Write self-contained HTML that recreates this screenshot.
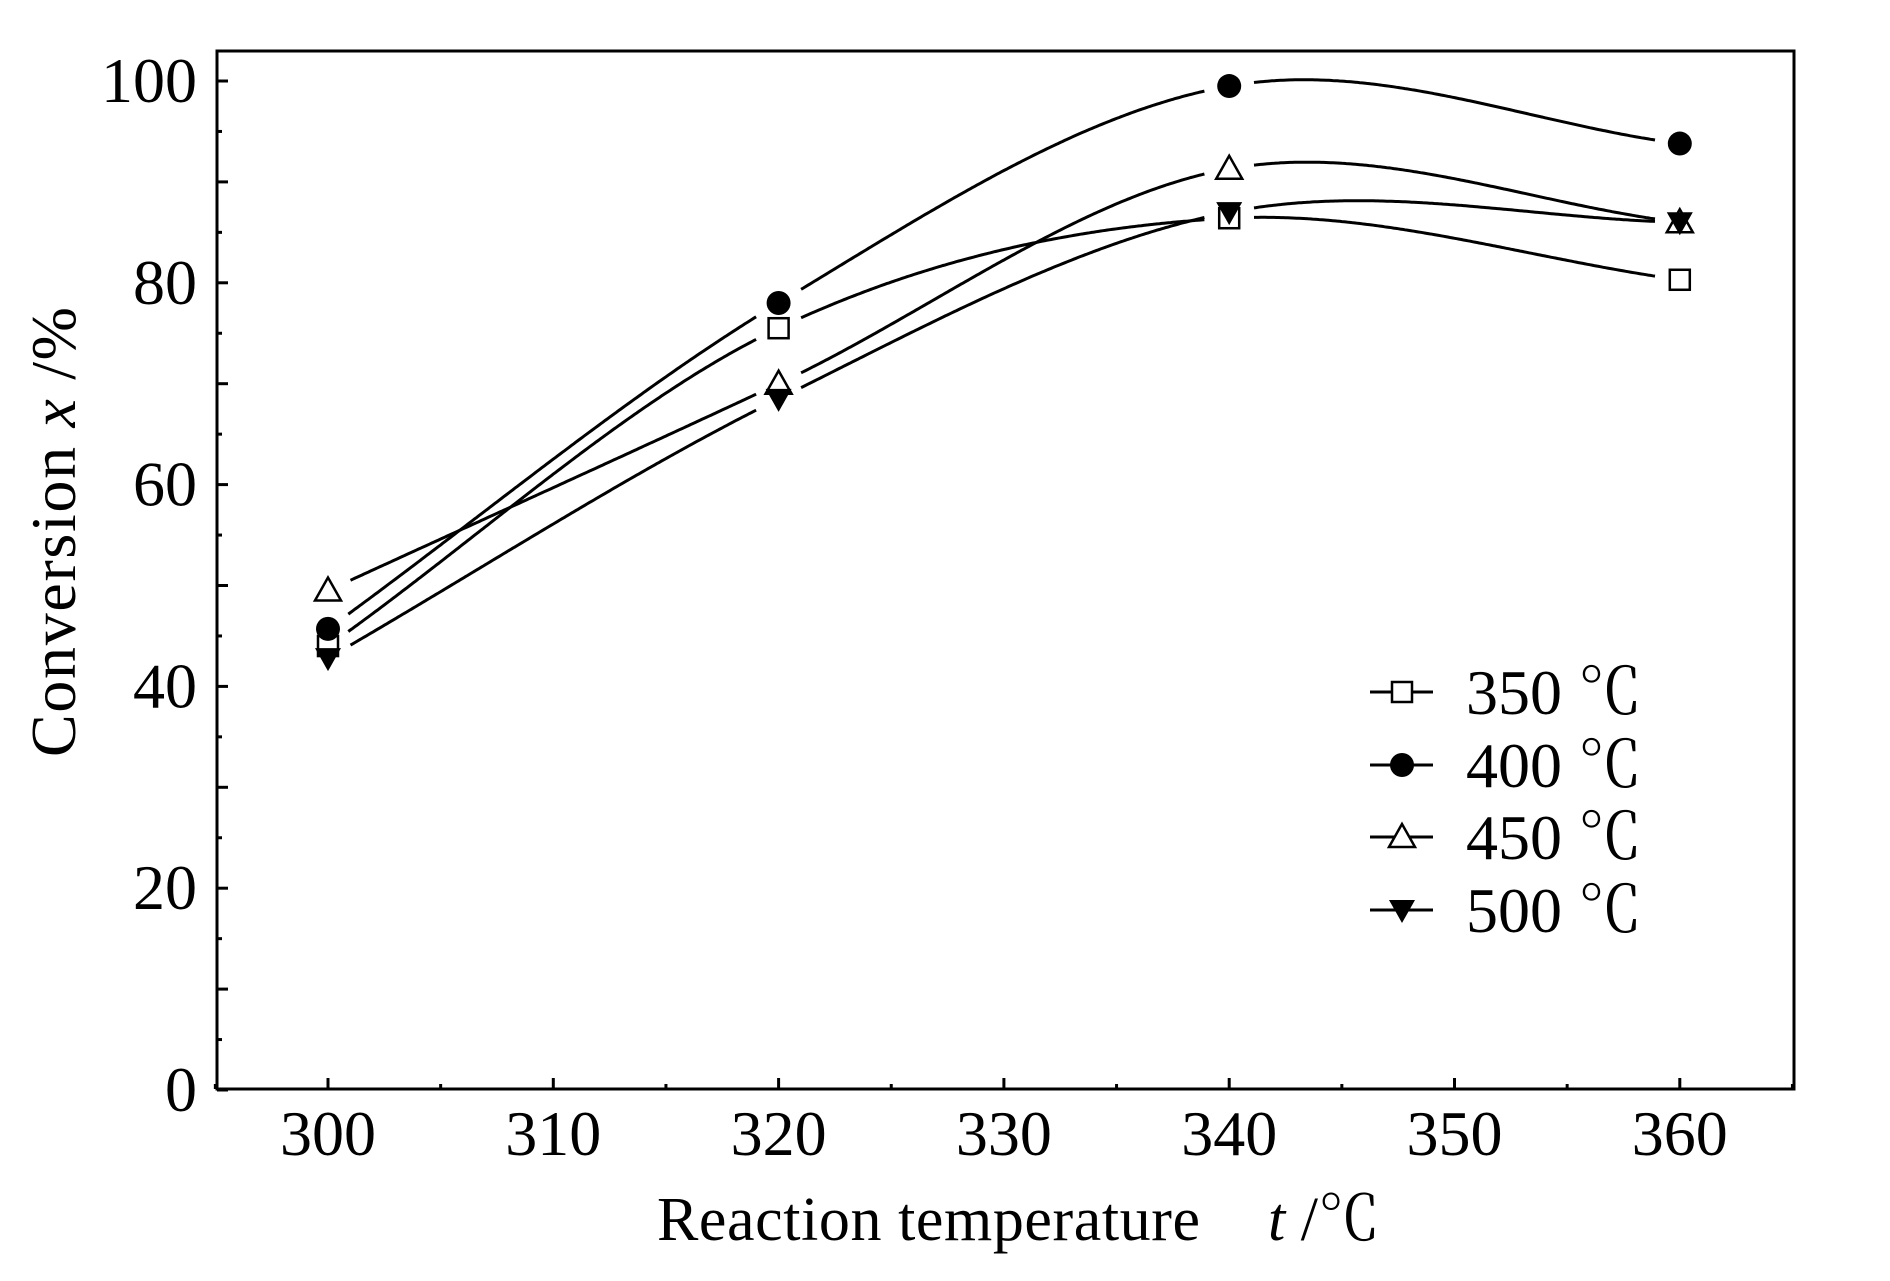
<!DOCTYPE html>
<html><head><meta charset="utf-8"><style>
html,body{margin:0;padding:0;background:#fff;}
svg text{font-family:"Liberation Serif","Noto Serif CJK SC",serif;fill:#000;}
</style></head><body>
<svg id="chart" width="1890" height="1276" viewBox="0 0 1890 1276" xmlns="http://www.w3.org/2000/svg">
<rect x="217" y="51" width="1577" height="1038" fill="none" stroke="#000" stroke-width="3"/>
<g id="axes"></g>
<g id="series"></g>
<text transform="translate(75,532) rotate(-90)" text-anchor="middle" font-size="64" textLength="450">Conversion <tspan font-style="italic">x</tspan> /%</text>
<text x="657" y="1240" font-size="62" textLength="543">Reaction temperature</text>
<text x="1268" y="1240" font-size="62"><tspan font-style="italic">t</tspan> /℃</text>
<g id="legend"></g>
</svg>
<script>
const temps = [300, 320, 340, 360];
const seriesNames = ["350 ℃", "400 ℃", "450 ℃", "500 ℃"];
const s350 = [44.0, 75.5, 86.4, 80.3];
const s400 = [45.7, 78.0, 99.5, 93.8];
const s450 = [49.5, 70.0, 91.3, 86.0];
const s500 = [42.8, 68.5, 87.0, 86.0];
const markers = ["square", "circle", "triangle", "down"];
const xTicks = [300, 310, 320, 330, 340, 350, 360];
const yTicks = [0, 20, 40, 60, 80, 100];

const NS = "http://www.w3.org/2000/svg";
function X(v){ return 328 + (v - 300) * 22.53; }
function Y(v){ return 81 + (100 - v) * 10.09; }
function mk(tag, attrs, parent){
  const e = document.createElementNS(NS, tag);
  for (const k in attrs) e.setAttribute(k, attrs[k]);
  parent.appendChild(e); return e;
}
const axes = document.getElementById('axes');
for (let v = 0; v <= 100; v += 5) {
  const len = v % 10 === 0 ? 11 : 5;
  const t = mk('line', {x1:217, x2:217+len, y1:Y(v), y2:Y(v), stroke:'#000', 'stroke-width':3}, axes);
  
  
}
yTicks.forEach(v => {
  const t = mk('text', {x:197, y:Y(v)+21, 'text-anchor':'end', 'font-size':64}, axes);
  t.textContent = v;
  
  
});
for (let v = 295; v <= 365; v += 5) {
  const len = v % 10 === 0 ? 11 : 5;
  const t = mk('line', {x1:X(v), x2:X(v), y1:1089, y2:1089-len, stroke:'#000', 'stroke-width':3}, axes);
  
  
}
xTicks.forEach(v => {
  const t = mk('text', {x:X(v), y:1155, 'text-anchor':'middle', 'font-size':64}, axes);
  t.textContent = v;
  
  
});

function drawMarker(type, cx, cy, parent){
  let e;
  if (type === 'square') e = mk('rect', {x:cx-10, y:cy-10, width:20, height:20, fill:'#fff', stroke:'#000', 'stroke-width':2.5}, parent);
  else if (type === 'circle') e = mk('circle', {cx:cx, cy:cy, r:12, fill:'#000'}, parent);
  else if (type === 'triangle') e = mk('polygon', {points:`${cx},${cy-13} ${cx-13},${cy+10} ${cx+13},${cy+10}`, fill:'#fff', stroke:'#000', 'stroke-width':2.5}, parent);
  else e = mk('polygon', {points:`${cx-13},${cy-10} ${cx+13},${cy-10} ${cx},${cy+13}`, fill:'#000'}, parent);
  return e;
}
function interp(xs, ys, x){
  const n = xs.length;
  const m = ys.map((y, i) => {
    if (i === 0) return (ys[1]-ys[0])/(xs[1]-xs[0]);
    if (i === n-1) return (ys[n-1]-ys[n-2])/(xs[n-1]-xs[n-2]);
    return (ys[i+1]-ys[i-1])/(xs[i+1]-xs[i-1]);
  });
  let k = 0;
  while (k < n-2 && x > xs[k+1]) k++;
  const h = xs[k+1]-xs[k], t = (x-xs[k])/h;
  const t2 = t*t, t3 = t2*t;
  return (2*t3-3*t2+1)*ys[k] + (t3-2*t2+t)*h*m[k] + (-2*t3+3*t2)*ys[k+1] + (t3-t2)*h*m[k+1];
}
const sg = document.getElementById('series');
[s350, s400, s450, s500].forEach((vals, si) => {
  const g = mk('g', {}, sg);
  
  
  let d = '', pen = false;
  for (let x = temps[0]; x <= temps[temps.length-1]; x += 0.1) {
    const px = X(x), py = Y(interp(temps, vals, x));
    let near = false;
    temps.forEach((t, i) => { if (Math.hypot(px - X(t), py - Y(vals[i])) < 24) near = true; });
    if (near) { pen = false; continue; }
    d += (pen ? 'L' : 'M') + px.toFixed(1) + ',' + py.toFixed(1);
    pen = true;
  }
  const p = mk('path', {d:d, fill:'none', stroke:'#000', 'stroke-width':3}, g);
  
  
  temps.forEach((t, i) => {
    const m = drawMarker(markers[si], X(t), Y(vals[i]), g);
    
    
  });
});
const lg = document.getElementById('legend');


const rowsY = [692, 765, 837, 910];
seriesNames.forEach((n, i) => {
  const g = mk('g', {}, lg);
  
  
  mk('line', {x1:1370, x2:1433, y1:rowsY[i], y2:rowsY[i], stroke:'#000', 'stroke-width':3}, g);
  drawMarker(markers[i], 1402, rowsY[i], g);
  const t = mk('text', {x:1466, y:rowsY[i]+22, 'font-size':64}, g);
  t.textContent = n.replace(' ', '\u00a0');
});
</script>
</body></html>
